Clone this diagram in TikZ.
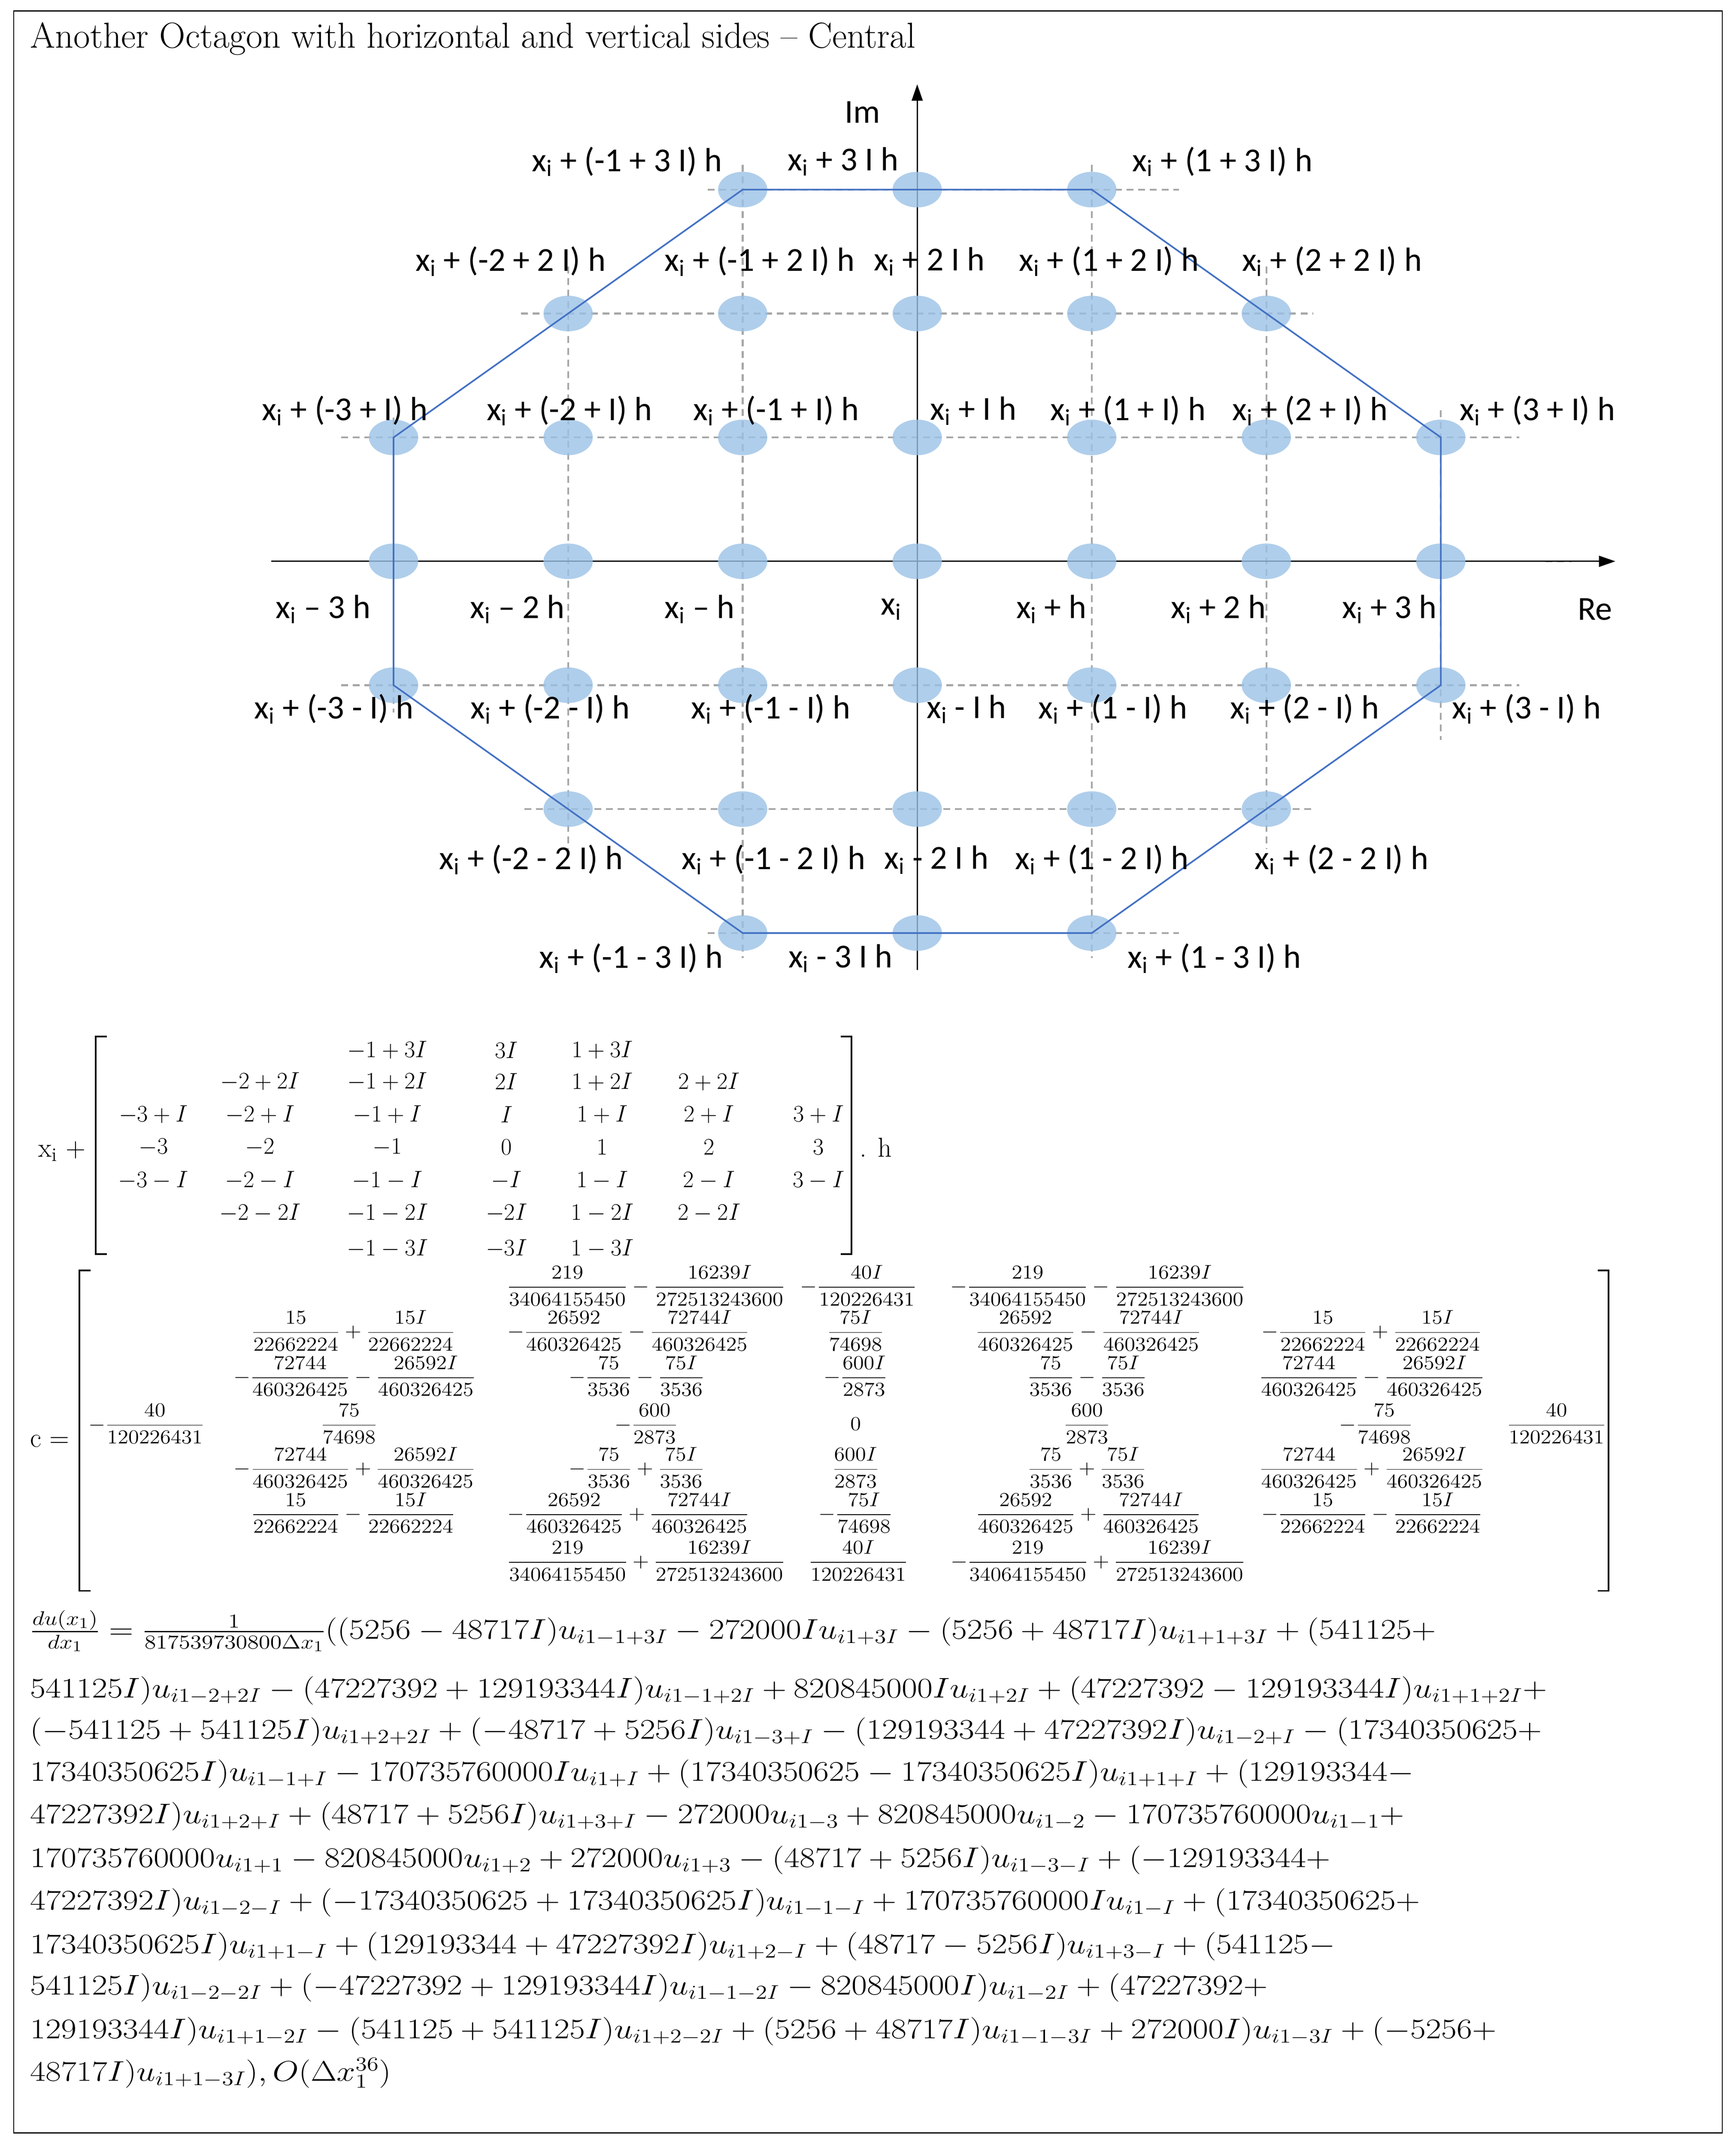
\documentclass[tikz,border=0pt]{standalone}
\usepackage{amsmath}
\usepackage{graphicx}
\usepackage{fontspec}
\usetikzlibrary{arrows.meta,shapes.geometric}
\newfontfamily\carl{Carlito}
\definecolor{ptc}{RGB}{155,194,230}
\definecolor{octc}{RGB}{68,114,196}
\newcommand\xsub{x\textsubscript{i}}
\newcommand\F[2]{\dfrac{#1}{#2}}
\newcommand\EL[1]{\scalebox{1.185}[1]{$#1$}}
\newcommand\CM[1]{\scalebox{1.1}[1]{$#1$}}
\tikzset{
 pt/.style={ellipse, minimum width=36pt, minimum height=26pt, inner sep=0pt, fill=ptc, fill opacity=0.8},
 grd/.style={gray!70, line width=1.3pt, dash pattern=on 5pt off 3.5pt},
 oct/.style={draw=octc, line width=1.2pt},
 lab/.style={font=\carl\fontsize{24.5}{27}\selectfont, inner sep=0pt},
 xmat/.style={font=\fontsize{19}{22}\selectfont, inner sep=0pt},
 cmat/.style={font=\fontsize{13.5}{15}\selectfont, inner sep=0pt},
 eqline/.style={font=\fontsize{22}{26}\selectfont, inner sep=0pt, anchor=base west},
 brk/.style={line width=1.2pt},
}
\begin{document}
\begin{tikzpicture}[x=1pt,y=-1pt]
\useasboundingbox (0,0) rectangle (1268,1567.5);
\fill[white] (0,0) rectangle (1268,1567.5);
\draw[line width=0.8pt] (10,8) rectangle (1258,1558);
\node[anchor=base west, inner sep=0pt, font=\fontsize{26.3}{30}\selectfont] (title) at (22,35) {Another Octagon with horizontal and vertical sides -- Central};
% diagram
\begin{scope}[shift={(670,410)}, x=127.5pt, y=90.5pt]
 \foreach \y/\a/\b in {3/-1.2/1.5, 2/-2.27/2.27, 1/-3.3/3.45, -1/-3.3/3.45, -2/-2.25/2.27, -3/-1.2/1.5}
   \draw[grd] (\a,\y) -- (\b,\y);
 \draw[grd] (3.6,0) -- (3.75,0);
 \foreach \x/\a/\b in {-3/1.16/-1.22, -2/2.38/-2.32, -1/3.2/-3.2, 1/3.2/-3.2, 2/2.38/-2.32, 3/1.22/-1.44}
   \draw[grd] (\x,\a) -- (\x,\b);
 \coordinate (reL) at (-3.7,0); \coordinate (reR) at (4.0,0);
 \coordinate (imB) at (0,-3.3); \coordinate (imT) at (0,3.85);
 \draw[line width=1pt,-{Triangle[length=12pt,width=8pt]}] (reL) -- (reR);
 \draw[line width=1pt,-{Triangle[length=12pt,width=8pt]}] (imB) -- (imT);
 \foreach \r/\cs in {3/{-1,0,1}, 2/{-2,-1,0,1,2}, 1/{-3,-2,-1,0,1,2,3}, 0/{-3,-2,-1,0,1,2,3}, -1/{-3,-2,-1,0,1,2,3}, -2/{-2,-1,0,1,2}, -3/{-1,0,1}}
   \foreach \c in \cs { \node[pt] (p\c x\r) at (\c,\r) {}; }
 \draw[oct] (p-1x3.center) -- (p1x3.center) -- (p3x1.center) -- (p3x-1.center) -- (p1x-3.center) -- (p-1x-3.center) -- (p-3x-1.center) -- (p-3x1.center) -- cycle;
\end{scope}
\node[lab] (im) at (630,82) {Im};
\node[lab] (re) at (1165,445) {Re};
\foreach \x/\y/\t [count=\k] in {
 458/118/{\xsub{} + (-1 + 3 I) h}, 616/118/{\xsub{} + 3 I h}, 893/118/{\xsub{} + (1 + 3 I) h},
 373/191/{\xsub{} + (-2 + 2 I) h}, 555/191/{\xsub{} + (-1 + 2 I) h}, 679/191/{\xsub{} + 2 I h}, 810/191/{\xsub{} + (1 + 2 I) h}, 973/191/{\xsub{} + (2 + 2 I) h},
 252/300/{\xsub{} + (-3 + I) h}, 416/300/{\xsub{} + (-2 + I) h}, 567/300/{\xsub{} + (-1 + I) h}, 711/300/{\xsub{} + I h}, 824/300/{\xsub{} + (1 + I) h}, 957/300/{\xsub{} + (2 + I) h}, 1123/300/{\xsub{} + (3 + I) h},
 236/445/{\xsub{} – 3 h}, 378/445/{\xsub{} – 2 h}, 511/445/{\xsub{} – h}, 651/445/{\xsub{}}, 768/445/{\xsub{} + h}, 890/445/{\xsub{} + 2 h}, 1015/445/{\xsub{} + 3 h},
 244/518/{\xsub{} + (-3 - I) h}, 402/518/{\xsub{} + (-2 - I) h}, 563/518/{\xsub{} + (-1 - I) h}, 706/518/{\xsub{} - I h}, 813/518/{\xsub{} + (1 - I) h}, 953/518/{\xsub{} + (2 - I) h}, 1115/518/{\xsub{} + (3 - I) h},
 388/628/{\xsub{} + (-2 - 2 I) h}, 565/628/{\xsub{} + (-1 - 2 I) h}, 684/628/{\xsub{} - 2 I h}, 805/628/{\xsub{} + (1 - 2 I) h}, 980/628/{\xsub{} + (2 - 2 I) h},
 461/700/{\xsub{} + (-1 - 3 I) h}, 614/700/{\xsub{} - 3 I h}, 887/700/{\xsub{} + (1 - 3 I) h}}
  \node[lab] (l\k) at (\x,\y) {\t};
% x_i matrix
\node[anchor=base west, inner sep=0pt, font=\fontsize{20}{24}\selectfont] (xplus) at (28,845) {\xsub{} +};
\coordinate (xl1) at (70,757); \coordinate (xl2) at (70,916);
\coordinate (xr1) at (622,757); \coordinate (xr2) at (622,916);
\draw[brk] ([xshift=8pt]xl1) -- (xl1) -- (xl2) -- ([xshift=8pt]xl2);
\draw[brk] ([xshift=-8pt]xr1) -- (xr1) -- (xr2) -- ([xshift=-8pt]xr2);
\node[anchor=base west, inner sep=0pt, font=\fontsize{20}{24}\selectfont] (hdot) at (628,845) {. h};
\foreach \x/\y/\t [count=\k] in {
 283/767/{-1+3I}, 370/767/{3I}, 440/767/{1+3I},
 190/790/{-2+2I}, 283/790/{-1+2I}, 370/790/{2I}, 440/790/{1+2I}, 518/790/{2+2I},
 112/814/{-3+I}, 190/814/{-2+I}, 283/814/{-1+I}, 370/814/{I}, 440/814/{1+I}, 518/814/{2+I}, 598/814/{3+I},
 112/838/{-3}, 190/838/{-2}, 283/838/{-1}, 370/838/{0}, 440/838/{1}, 518/838/{2}, 598/838/{3},
 112/862/{-3-I}, 190/862/{-2-I}, 283/862/{-1-I}, 370/862/{-I}, 440/862/{1-I}, 518/862/{2-I}, 598/862/{3-I},
 190/886/{-2-2I}, 283/886/{-1-2I}, 370/886/{-2I}, 440/886/{1-2I}, 518/886/{2-2I},
 283/912/{-1-3I}, 370/912/{-3I}, 440/912/{1-3I}}
  \node[xmat] (x\k) at (\x,\y) {$\t$};
% c matrix
\node[anchor=base west, inner sep=0pt, font=\fontsize{20}{24}\selectfont] (ceq) at (22,1057) {c =};
\coordinate (cl1) at (58,928); \coordinate (cl2) at (58,1162);
\coordinate (cr1) at (1175,928); \coordinate (cr2) at (1175,1162);
\draw[brk] ([xshift=8pt]cl1) -- (cl1) -- (cl2) -- ([xshift=8pt]cl2);
\draw[brk] ([xshift=-8pt]cr1) -- (cr1) -- (cr2) -- ([xshift=-8pt]cr2);
\foreach \x/\y/\t [count=\k] in {
 472/939/{\F{219}{34064155450}-\F{16239I}{272513243600}}, 627/939/{-\F{40I}{120226431}}, 802/939/{-\F{219}{34064155450}-\F{16239I}{272513243600}},
 258/972/{\F{15}{22662224}+\F{15I}{22662224}}, 459/972/{-\F{26592}{460326425}-\F{72744I}{460326425}}, 625/972/{\F{75I}{74698}}, 795/972/{\F{26592}{460326425}-\F{72744I}{460326425}}, 1002/972/{-\F{15}{22662224}+\F{15I}{22662224}},
 259/1005/{-\F{72744}{460326425}-\F{26592I}{460326425}}, 465/1005/{-\F{75}{3536}-\F{75I}{3536}}, 625/1005/{-\F{600I}{2873}}, 794/1005/{\F{75}{3536}-\F{75I}{3536}}, 1002/1005/{\F{72744}{460326425}-\F{26592I}{460326425}},
 107/1040/{-\F{40}{120226431}}, 255/1040/{\F{75}{74698}}, 472/1040/{-\F{600}{2873}}, 625/1040/{0}, 794/1040/{\F{600}{2873}}, 1005/1040/{-\F{75}{74698}}, 1137/1040/{\F{40}{120226431}},
 259/1072/{-\F{72744}{460326425}+\F{26592I}{460326425}}, 465/1072/{-\F{75}{3536}+\F{75I}{3536}}, 625/1072/{\F{600I}{2873}}, 794/1072/{\F{75}{3536}+\F{75I}{3536}}, 1002/1072/{\F{72744}{460326425}+\F{26592I}{460326425}},
 258/1105/{\F{15}{22662224}-\F{15I}{22662224}}, 459/1105/{-\F{26592}{460326425}+\F{72744I}{460326425}}, 625/1105/{-\F{75I}{74698}}, 795/1105/{\F{26592}{460326425}+\F{72744I}{460326425}}, 1002/1105/{-\F{15}{22662224}-\F{15I}{22662224}},
 472/1140/{\F{219}{34064155450}+\F{16239I}{272513243600}}, 627/1140/{\F{40I}{120226431}}, 802/1140/{-\F{219}{34064155450}+\F{16239I}{272513243600}}}
  \node[cmat] (c\k) at (\x,\y) {\CM{\t}};
% equation
\node[eqline] (e1) at (22,1197) {\EL{\frac{du(x_1)}{dx_1}=\frac{1}{817539730800\Delta x_1}((5256-48717I)u_{i1-1+3I}-272000Iu_{i1+3I}-(5256+48717I)u_{i1+1+3I}+(541125+}};
\node[eqline] (e2) at (22,1240) {\EL{541125I)u_{i1-2+2I}-(47227392+129193344I)u_{i1-1+2I}+820845000Iu_{i1+2I}+(47227392-129193344I)u_{i1+1+2I}+}};
\node[eqline] (e3) at (22,1270) {\EL{(-541125+541125I)u_{i1+2+2I}+(-48717+5256I)u_{i1-3+I}-(129193344+47227392I)u_{i1-2+I}-(17340350625+}};
\node[eqline] (e4) at (22,1301) {\EL{17340350625I)u_{i1-1+I}-170735760000Iu_{i1+I}+(17340350625-17340350625I)u_{i1+1+I}+(129193344-}};
\node[eqline] (e5) at (22,1332) {\EL{47227392I)u_{i1+2+I}+(48717+5256I)u_{i1+3+I}-272000u_{i1-3}+820845000u_{i1-2}-170735760000u_{i1-1}+}};
\node[eqline] (e6) at (22,1364) {\EL{170735760000u_{i1+1}-820845000u_{i1+2}+272000u_{i1+3}-(48717+5256I)u_{i1-3-I}+(-129193344+}};
\node[eqline] (e7) at (22,1395) {\EL{47227392I)u_{i1-2-I}+(-17340350625+17340350625I)u_{i1-1-I}+170735760000Iu_{i1-I}+(17340350625+}};
\node[eqline] (e8) at (22,1427) {\EL{17340350625I)u_{i1+1-I}+(129193344+47227392I)u_{i1+2-I}+(48717-5256I)u_{i1+3-I}+(541125-}};
\node[eqline] (e9) at (22,1457) {\EL{541125I)u_{i1-2-2I}+(-47227392+129193344I)u_{i1-1-2I}-820845000I)u_{i1-2I}+(47227392+}};
\node[eqline] (e10) at (22,1489) {\EL{129193344I)u_{i1+1-2I}-(541125+541125I)u_{i1+2-2I}+(5256+48717I)u_{i1-1-3I}+272000I)u_{i1-3I}+(-5256+}};
\node[eqline] (e11) at (22,1520) {\EL{48717I)u_{i1+1-3I}),O(\Delta x_1^{36})}};
\end{tikzpicture}
\end{document}
